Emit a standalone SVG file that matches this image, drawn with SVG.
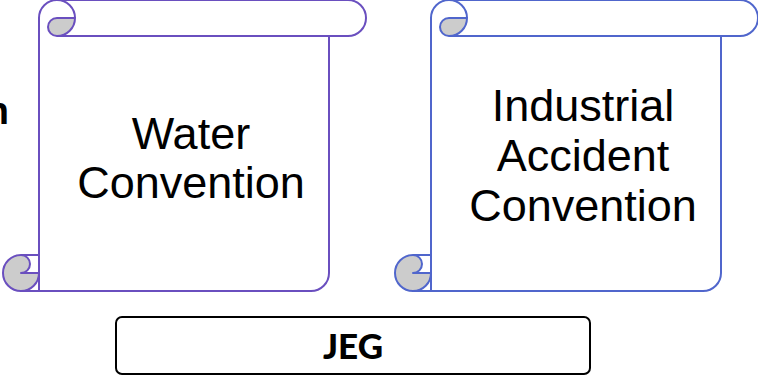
<svg xmlns="http://www.w3.org/2000/svg" xmlns:xlink="http://www.w3.org/1999/xlink" width="758" height="375" viewBox="0 0 758 375">
<style>
.ln{fill:none;stroke:currentColor;stroke-width:2}
.curl{fill:#cccccc;stroke:currentColor;stroke-width:2;stroke-linejoin:round}
.lbl{font-family:"Liberation Sans",Arial,sans-serif;font-size:45px;fill:#000;text-anchor:middle}
.jeg{font-family:Lato,"Liberation Sans",sans-serif;font-weight:900;font-size:35px;fill:#000;text-anchor:middle}
</style>
<defs>
<g id="scroll">
<path class="ln" d="M39,291 V18 A18,18 0 0 1 75,18"/>
<path class="ln" d="M57,0 H348 A18,18 0 0 1 348,36 H57"/>
<path class="ln" d="M329,36 V273 A18,18 0 0 1 311,291 H21"/>
<path class="ln" d="M21,255 H39"/>
<path class="curl" d="M57,18 H75 A18,18 0 0 1 57,36 A9,9 0 0 1 57,18 Z"/>
<path class="curl" d="M21,255 A18,18 0 1 0 39,273 H21 A9,9 0 0 0 21,255 Z"/>
</g>
</defs>
<g id="edge-label">
<text x="9" y="124" font-family="Liberation Sans, Arial, sans-serif" font-weight="bold" font-size="38" text-anchor="end">n</text>
</g>
<g id="water-convention" style="color:#6a4fbf">
<use xlink:href="#scroll"/>
<text class="lbl"><tspan x="191" y="149">Water</tspan><tspan x="191" y="198">Convention</tspan></text>
</g>
<g id="industrial-accident-convention" style="color:#5066cc">
<use xlink:href="#scroll" transform="translate(392,0)"/>
<text class="lbl"><tspan x="583" y="121">Industrial</tspan><tspan x="583" y="171">Accident</tspan><tspan x="583" y="221">Convention</tspan></text>
</g>
<g id="jeg">
<rect x="116" y="317" width="474" height="57" rx="6" ry="6" fill="#fff" stroke="#000" stroke-width="2"/>
<text class="jeg" x="353" y="359">JEG</text>
</g>
<g id="connectors"/>
</svg>
